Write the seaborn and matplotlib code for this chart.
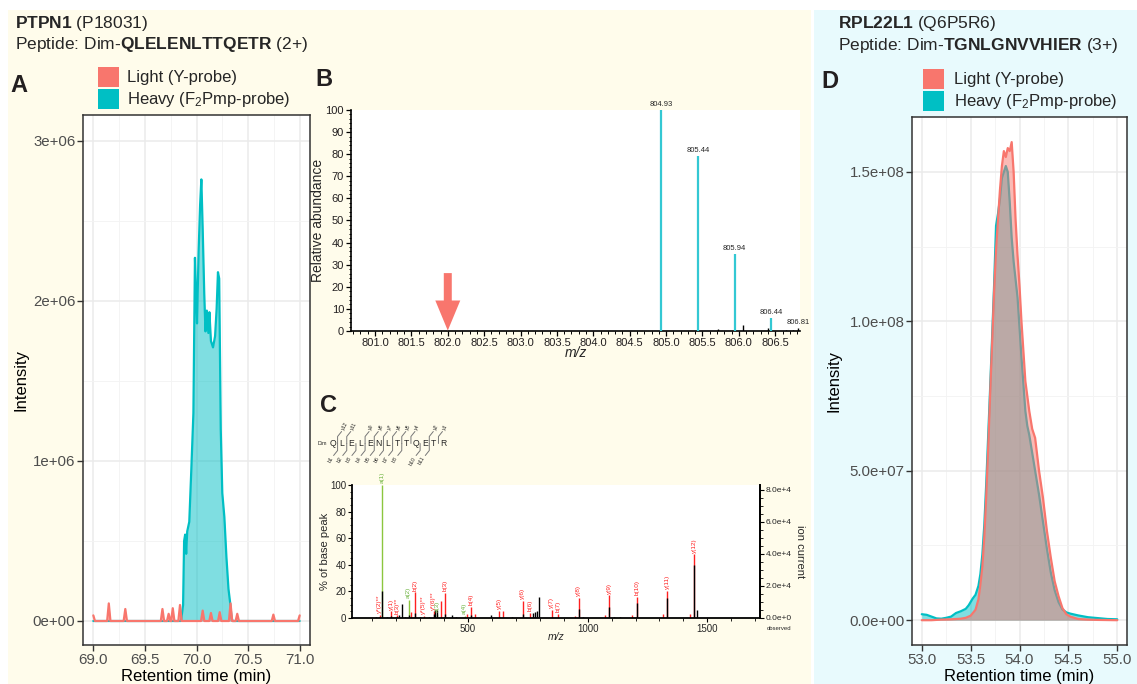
import matplotlib
matplotlib.use("Agg")
import matplotlib.pyplot as plt
from matplotlib.patches import Patch, Rectangle
from matplotlib.ticker import MultipleLocator, FuncFormatter
import seaborn as sns

# ================= DATOS =================
# Panel A: PTPN1 XIC (retention time in min, intensity)
a_heavy_rt = [69.00, 69.850, 69.870, 69.880, 69.890, 69.900, 69.910, 69.930, 69.950, 69.970,
              69.985, 69.995, 70.005, 70.020, 70.035, 70.047, 70.060, 70.075, 70.087, 70.100,
              70.115, 70.125, 70.140, 70.160, 70.180, 70.195, 70.208, 70.220, 70.235, 70.250,
              70.270, 70.290, 70.310, 70.325, 70.340, 70.350, 71.00]
a_heavy_int = [0, 0, 0.10e6, 0.50e6, 0.54e6, 0.42e6, 0.56e6, 0.62e6, 0.95e6, 1.30e6,
               2.27e6, 2.05e6, 1.86e6, 2.30e6, 2.60e6, 2.76e6, 2.45e6, 2.05e6, 1.81e6, 1.94e6,
               1.80e6, 1.93e6, 1.75e6, 1.71e6, 1.78e6, 1.95e6, 2.18e6, 2.14e6, 1.20e6, 0.80e6,
               0.65e6, 0.40e6, 0.20e6, 0.12e6, 0.02e6, 0, 0]
a_light_rt = [69.000, 69.016, 69.134, 69.150, 69.166, 69.294, 69.310, 69.326, 69.654, 69.670,
              69.686, 69.714, 69.730, 69.746, 69.754, 69.770, 69.786, 69.824, 69.840, 69.856,
              70.044, 70.060, 70.076, 70.124, 70.140, 70.156, 70.209, 70.225, 70.241, 70.314,
              70.330, 70.346, 70.379, 70.395, 70.411, 70.729, 70.745, 70.761, 70.984, 71.000]
a_light_int = [35e3, 0, 0, 110e3, 0, 0, 75e3, 0, 0, 75e3,
               0, 0, 45e3, 0, 0, 80e3, 0, 0, 100e3, 0,
               0, 65e3, 0, 0, 50e3, 0, 0, 55e3, 0, 0,
               110e3, 0, 0, 45e3, 0, 0, 40e3, 0, 0, 35e3]

# Panel D: RPL22L1 XIC
d_heavy_rt = [53.00, 53.05, 53.10, 53.15, 53.20, 53.25, 53.30, 53.35, 53.40, 53.45,
              53.48, 53.52, 53.55, 53.58, 53.60, 53.62, 53.64, 53.66, 53.68, 53.70,
              53.72, 53.74, 53.76, 53.78, 53.80, 53.82, 53.84, 53.86, 53.88, 53.90,
              53.92, 53.94, 53.96, 53.98, 54.00, 54.02, 54.04, 54.06, 54.08, 54.10,
              54.13, 54.16, 54.20, 54.24, 54.28, 54.32, 54.36, 54.40, 54.44, 54.48,
              54.52, 54.60, 54.70, 54.80, 54.90, 55.00]
d_heavy_int = [2.0e6, 1.8e6, 1.2e6, 0.6e6, 0.5e6, 0.8e6, 1.2e6, 2.4e6, 3.0e6, 3.8e6,
               5.0e6, 7.2e6, 8.5e6, 11.5e6, 15.5e6, 22e6, 32e6, 46e6, 62e6, 78e6,
               95e6, 112e6, 132e6, 136e6, 141e6, 148e6, 150e6, 152e6, 150e6, 140e6,
               128e6, 120e6, 114e6, 108e6, 98e6, 88e6, 79e6, 70e6, 65e6, 62e6,
               56e6, 50e6, 42e6, 33e6, 24e6, 16e6, 10e6, 6e6, 3.6e6, 2.6e6,
               2.2e6, 1.6e6, 1.0e6, 0.7e6, 0.4e6, 0.3e6]
d_light_rt = [53.00, 53.10, 53.20, 53.30, 53.40, 53.45, 53.50, 53.55, 53.58, 53.60,
              53.62, 53.64, 53.66, 53.68, 53.70, 53.72, 53.74, 53.76, 53.78, 53.80,
              53.82, 53.84, 53.86, 53.88, 53.90, 53.92, 53.94, 53.96, 53.98, 54.00,
              54.02, 54.04, 54.06, 54.08, 54.10, 54.13, 54.16, 54.20, 54.24, 54.28,
              54.32, 54.36, 54.40, 54.44, 54.48, 54.52, 54.60, 54.70, 54.80, 55.00]
d_light_int = [0, 0, 0.2e6, 0.3e6, 0.5e6, 0.8e6, 1.5e6, 3.5e6, 7e6, 12e6,
               18e6, 28e6, 42e6, 58e6, 76e6, 93e6, 110e6, 124e6, 134e6, 144e6,
               152e6, 157e6, 155e6, 158e6, 157e6, 160e6, 150e6, 134e6, 122e6, 112e6,
               100e6, 90e6, 80e6, 75e6, 70e6, 64e6, 61e6, 50e6, 41e6, 30e6,
               21e6, 13e6, 8e6, 4e6, 2e6, 1.2e6, 0.4e6, 0.2e6, 0.1e6, 0]

# Panel B: MS1 isotope envelope
b_peak_mz = [804.93, 805.44, 805.94, 806.44]
b_peak_rel = [100, 79, 35, 6]
b_label_mz = [804.93, 805.44, 805.94, 806.44, 806.81]
b_label_rel = [100, 79, 35, 6, 1.2]
b_noise_mz = [802.40, 805.72, 806.05, 806.40, 806.65, 806.75, 806.81]
b_noise_rel = [0.3, 1.0, 2.5, 1.5, 0.6, 0.5, 1.2]
b_arrow_mz = 802.0

# Panel C: MS/MS spectrum
c_red_mz = [131, 178, 202, 263, 280, 314, 356, 387, 404, 496, 513, 531, 630, 645,
            729, 758, 850, 876, 948, 963, 1073, 1091, 1187, 1207, 1314, 1333, 1427, 1445]
c_red_pct = [2.5, 5, 2, 4.5, 19.4, 1.5, 5, 13, 19, 3, 8.2, 3, 5.5, 5.5,
             13, 4, 6, 3, 1.5, 15, 2, 17, 2, 16, 3, 20.4, 3, 47.8]
c_red_lbl = ["y*(2)**", "y(1)", "b(3)**", "", "b(2)", "y*(5)**", "y*(6)**", "", "b(3)", "", "b(4)", "", "y(5)", "",
             "y(6)", "b(6)", "y(7)", "b(7)", "", "y(8)", "", "y(9)", "", "b(10)", "", "y(11)", "", "y(12)"]
c_green_mz = [140, 252, 370, 486]
c_green_pct = [100, 13.7, 3, 1.5]
c_green_lbl = ["a(1)", "a(2)", "a(3)", "a(4)"]
c_black_mz = [115, 128, 140, 160, 178, 198, 212, 224, 236, 252, 280, 300, 335, 356, 363, 370,
              404, 433, 448, 513, 596, 630, 682, 729, 770, 778, 787, 795, 850, 963, 980,
              1091, 1110, 1135, 1207, 1333, 1445, 1455]
c_black_pct = [1, 1, 20.6, 1, 1.5, 1, 2, 10.7, 1, 2, 4, 1, 1, 3, 6, 6,
               3, 2.5, 1, 2, 2, 1, 1, 3, 3.5, 4.5, 5, 16, 1, 6.5, 1,
               8, 1, 1, 11, 15, 40, 6]
c_sequence = "QLELENLTTQETR"
c_y_cuts = [1, 2, 4, 5, 6, 7, 8, 9, 11, 12]
c_b_cuts = [1, 2, 3, 4, 5, 6, 7, 8, 10, 11]

# ================= ESTILO =================
LIGHT = "#F8766D"
HEAVY = "#00BFC4"
W, H = 1137, 684

sns.set_theme(style="white")
plt.rcParams['font.family'] = ['Liberation Sans', 'DejaVu Sans']
plt.rcParams['mathtext.fontset'] = 'custom'
plt.rcParams['mathtext.rm'] = 'Liberation Sans'
plt.rcParams['mathtext.it'] = 'Liberation Sans:italic'
plt.rcParams['mathtext.bf'] = 'Liberation Sans:bold'

fig = plt.figure(figsize=(W / 100, H / 100), dpi=100)
fig.patch.set_facecolor("white")


def box(l, t, r, b):
    # axes placed in pixel coordinates of the reference
    return fig.add_axes([l / W, 1 - b / H, (r - l) / W, (b - t) / H])


def fy(y):
    return 1 - y / H


# fondos de color
fig.add_artist(Rectangle((8 / W, 0), (811 - 8) / W, fy(10), transform=fig.transFigure,
                         facecolor="#FFFCEB", edgecolor="none", zorder=-10))
fig.add_artist(Rectangle((814 / W, 0), (W - 814) / W, fy(10), transform=fig.transFigure,
                         facecolor="#E8FAFD", edgecolor="none", zorder=-10))


def cromatograma(ax, h_rt, h_int, l_rt, l_int, xlim, ylim, ymaj, ymin, yfmt):
    ax.set_facecolor("white")
    ax.fill_between(h_rt, h_int, color=HEAVY, alpha=0.5, lw=0, zorder=2)
    sns.lineplot(x=h_rt, y=h_int, color=HEAVY, linewidth=1.6, ax=ax, zorder=3)
    ax.fill_between(l_rt, l_int, color=LIGHT, alpha=0.5, lw=0, zorder=4)
    sns.lineplot(x=l_rt, y=l_int, color=LIGHT, linewidth=1.6, ax=ax, zorder=5)
    ax.set_xlim(*xlim)
    ax.set_ylim(*ylim)
    ax.xaxis.set_major_locator(MultipleLocator(0.5))
    ax.xaxis.set_minor_locator(MultipleLocator(0.25))
    ax.yaxis.set_major_locator(MultipleLocator(ymaj))
    ax.yaxis.set_minor_locator(MultipleLocator(ymin))
    ax.xaxis.set_major_formatter(FuncFormatter(lambda v, p: f"{v:.1f}"))
    ax.yaxis.set_major_formatter(FuncFormatter(lambda v, p: yfmt.format(v if abs(v) > 1 else 0.0)))
    ax.grid(True, which="major", color="#EBEBEB", lw=1.1)
    ax.grid(True, which="minor", color="#F3F3F3", lw=0.6)
    ax.set_axisbelow(True)
    for s in ax.spines.values():
        s.set_color("#333333")
        s.set_linewidth(1.1)
    ax.tick_params(which="major", length=4, width=1, color="#333333", labelcolor="#4D4D4D",
                   labelsize=10.8, pad=1.5, left=True, bottom=True)
    ax.tick_params(which="minor", length=0)
    ax.set_xlabel("Retention time (min)", fontsize=12, color="black")
    ax.set_ylabel("Intensity", fontsize=12, color="black")


# ---------- Panel A ----------
ax_a = box(83, 115, 310, 645)
cromatograma(ax_a, a_heavy_rt, a_heavy_int, a_light_rt, a_light_int,
             (68.9, 71.1), (-0.15e6, 3.1625e6), 1e6, 0.5e6, "{:.0e}")
ax_a.yaxis.set_label_coords(-0.238, 0.5)
ax_a.xaxis.set_label_coords(0.5, -0.046)

# ---------- Panel D ----------
ax_d = box(912, 117, 1127, 645)
cromatograma(ax_d, d_heavy_rt, d_heavy_int, d_light_rt, d_light_int,
             (52.9, 55.1), (-8.3e6, 1.684e8), 5e7, 2.5e7, "{:.1e}")
ax_d.yaxis.set_label_coords(-0.326, 0.5)
ax_d.xaxis.set_label_coords(0.5, -0.046)


def leyenda(x, y, pad):
    handles = [Patch(facecolor=LIGHT, edgecolor="none", label="Light (Y-probe)"),
               Patch(facecolor=HEAVY, edgecolor="none", label=r"Heavy (F$_\mathregular{2}$Pmp-probe)")]
    fig.legend(handles=handles, loc="upper left", bbox_to_anchor=(x / W, fy(y)),
               bbox_transform=fig.transFigure, frameon=False, fontsize=12,
               handlelength=1.26, handleheight=1.45, handletextpad=pad,
               labelspacing=0.12, borderpad=0, borderaxespad=0)


leyenda(98, 67, 0.5)
leyenda(923, 69, 0.6)

# ---------- Panel B ----------
ax_b = box(351, 110, 800, 331)
ax_b.set_facecolor("white")
ax_b.vlines(b_peak_mz, 0, b_peak_rel, color="#33C8D3", lw=1.6, zorder=3)
ax_b.vlines(b_noise_mz, 0, b_noise_rel, color="black", lw=1.0, zorder=3)
for mz, rel in zip(b_label_mz, b_label_rel):
    ax_b.annotate(f"{mz:.2f}", (mz, rel), xytext=(0, 1.5), textcoords="offset points",
                  ha="center", va="bottom", fontsize=5.5, annotation_clip=False)
ax_b.arrow(b_arrow_mz, 26.2, 0, -26.0, width=8 / 72.9, head_width=25 / 72.9, head_length=13.6,
           length_includes_head=True, color=LIGHT, lw=0, zorder=5)
ax_b.set_xlim(800.67, 806.84)
ax_b.set_ylim(0, 100)
ax_b.xaxis.set_major_locator(MultipleLocator(0.5))
ax_b.xaxis.set_minor_locator(MultipleLocator(0.1))
ax_b.yaxis.set_major_locator(MultipleLocator(10))
ax_b.yaxis.set_minor_locator(MultipleLocator(2))
ax_b.xaxis.set_major_formatter(FuncFormatter(lambda v, p: f"{v:.1f}"))
for side in ["top", "right"]:
    ax_b.spines[side].set_visible(False)
for side in ["left", "bottom"]:
    ax_b.spines[side].set_color("black")
    ax_b.spines[side].set_linewidth(1.2)
ax_b.tick_params(which="major", length=3.5, width=0.9, color="black", labelsize=8,
                 labelcolor="#231F20", pad=1.5, left=True, bottom=True)
ax_b.tick_params(which="minor", length=1.8, width=0.7, color="black", left=True, bottom=True)
ax_b.set_xlabel("m/z", fontsize=10, fontstyle="italic")
ax_b.set_ylabel("Relative abundance", fontsize=10)
ax_b.yaxis.set_label_coords(-0.058, 0.5)
ax_b.xaxis.set_label_coords(0.5, -0.068)

# ---------- Panel C ----------
RED = "#FF2020"
GREEN = "#8CC63F"
ax_c = box(352, 485, 760, 618)
ax_c.set_facecolor("white")
ax_c.vlines(c_red_mz, 0, c_red_pct, color=RED, lw=1.0, zorder=2)
ax_c.vlines(c_green_mz, 0, c_green_pct, color=GREEN, lw=1.0, zorder=2)
ax_c.vlines(c_black_mz, 0, c_black_pct, color="black", lw=1.0, zorder=3)
for mz, pct, lbl in zip(c_red_mz, c_red_pct, c_red_lbl):
    if lbl:
        ax_c.annotate(lbl, (mz, pct), xytext=(0, 1.2), textcoords="offset points", rotation=90,
                      ha="center", va="bottom", fontsize=4.6, color=RED, annotation_clip=False)
for mz, pct, lbl in zip(c_green_mz, c_green_pct, c_green_lbl):
    ax_c.annotate(lbl, (mz, pct), xytext=(0, 1.2), textcoords="offset points", rotation=90,
                  ha="center", va="bottom", fontsize=4.6, color="#6DB33F", annotation_clip=False)
ax_c.set_xlim(15, 1720)
ax_c.set_ylim(0, 100)
ax_c.xaxis.set_major_locator(MultipleLocator(500))
ax_c.xaxis.set_minor_locator(MultipleLocator(100))
ax_c.yaxis.set_major_locator(MultipleLocator(20))
ax_c.yaxis.set_minor_locator(MultipleLocator(5))
ax_c.spines["top"].set_visible(False)
for side in ["left", "bottom", "right"]:
    ax_c.spines[side].set_color("black")
    ax_c.spines[side].set_linewidth(1.3)
ax_c.tick_params(which="major", length=3, width=0.8, color="black", labelsize=7, pad=1,
                 left=True, bottom=True)
ax_c.tick_params(which="minor", length=1.8, width=0.6, color="black", left=True, bottom=True)
ax_c.set_xlabel("m/z", fontsize=7.5, fontstyle="italic")
ax_c.xaxis.set_label_coords(0.5, -0.105)
ax_c.set_ylabel("% of base peak", fontsize=8)
ax_c.yaxis.set_label_coords(-0.053, 0.5)

ax_c2 = ax_c.twinx()
ax_c2.set_ylim(0, 83100)
ax_c2.yaxis.set_major_locator(MultipleLocator(20000))
ax_c2.yaxis.set_minor_locator(MultipleLocator(5000))
ax_c2.yaxis.set_major_formatter(FuncFormatter(lambda v, p: f"{v / 1e4:.1f}e+4" if v > 0 else "0.0e+0"))
for side in ["top", "left", "bottom"]:
    ax_c2.spines[side].set_visible(False)
ax_c2.spines["right"].set_color("black")
ax_c2.spines["right"].set_linewidth(1.3)
ax_c2.tick_params(which="major", length=3, width=0.8, color="black", labelsize=6, pad=1, right=True)
ax_c2.tick_params(which="minor", length=1.8, width=0.6, color="black", right=True)
ax_c2.grid(False)
ax_c2.text(1.098, 0.5, "ion current", rotation=270, transform=ax_c2.transAxes,
           ha="center", va="center", fontsize=8)
ax_c2.text((779 - 352) / 408, -(628 - 618) / 133, "observed", transform=ax_c2.transAxes,
           ha="center", va="center", fontsize=4.3)

# esquema de fragmentacion (coordenadas en pixeles)
ax_l = fig.add_axes([0, 0, 1, 1], facecolor="none", zorder=10)
ax_l.set_xlim(0, W)
ax_l.set_ylim(H, 0)
ax_l.axis("off")
x0, step, yc = 333.0, 9.17, 443.5
ax_l.text(x0 - 11, yc, "Dim", fontsize=3.8, ha="center", va="center")
for i, aa in enumerate(c_sequence):
    ax_l.text(x0 + i * step, yc, aa, fontsize=6.2, ha="center", va="center")
for k in range(1, len(c_sequence)):
    xc = x0 + (k - 0.5) * step
    if k in c_y_cuts:
        ax_l.plot([xc, xc, xc + 4], [yc, yc - 7, yc - 12], color="#777777", lw=0.7)
        ax_l.text(xc + 3, yc - 12.5, f"y{len(c_sequence) - k}", fontsize=3.8, rotation=60,
                  ha="left", va="bottom")
    if k in c_b_cuts:
        ax_l.plot([xc, xc, xc - 4], [yc, yc + 7, yc + 12], color="#777777", lw=0.7)
        ax_l.text(xc - 3, yc + 12.5, f"b{k}", fontsize=3.8, rotation=60, ha="right", va="top")

# ---------- textos ----------
fig.text(15 / W, fy(28), r"$\mathbf{PTPN1}$ (P18031)", fontsize=12.5, va="baseline")
fig.text(15 / W, fy(49), r"Peptide: Dim-$\mathbf{QLELENLTTQETR}$ (2+)", fontsize=12.5, va="baseline")
fig.text(838 / W, fy(28), r"$\mathbf{RPL22L1}$ (Q6P5R6)", fontsize=12.5, va="baseline")
fig.text(838 / W, fy(50), r"Peptide: Dim-$\mathbf{TGNLGNVVHIER}$ (3+)", fontsize=12.5, va="baseline")
for lbl, x, y in [("A", 10, 92), ("B", 315, 86), ("C", 320, 412), ("D", 821, 88)]:
    fig.text(x / W, fy(y), lbl, fontsize=17, fontweight="bold", va="baseline", color="#231F20")

fig.savefig("out.png", dpi=100)
